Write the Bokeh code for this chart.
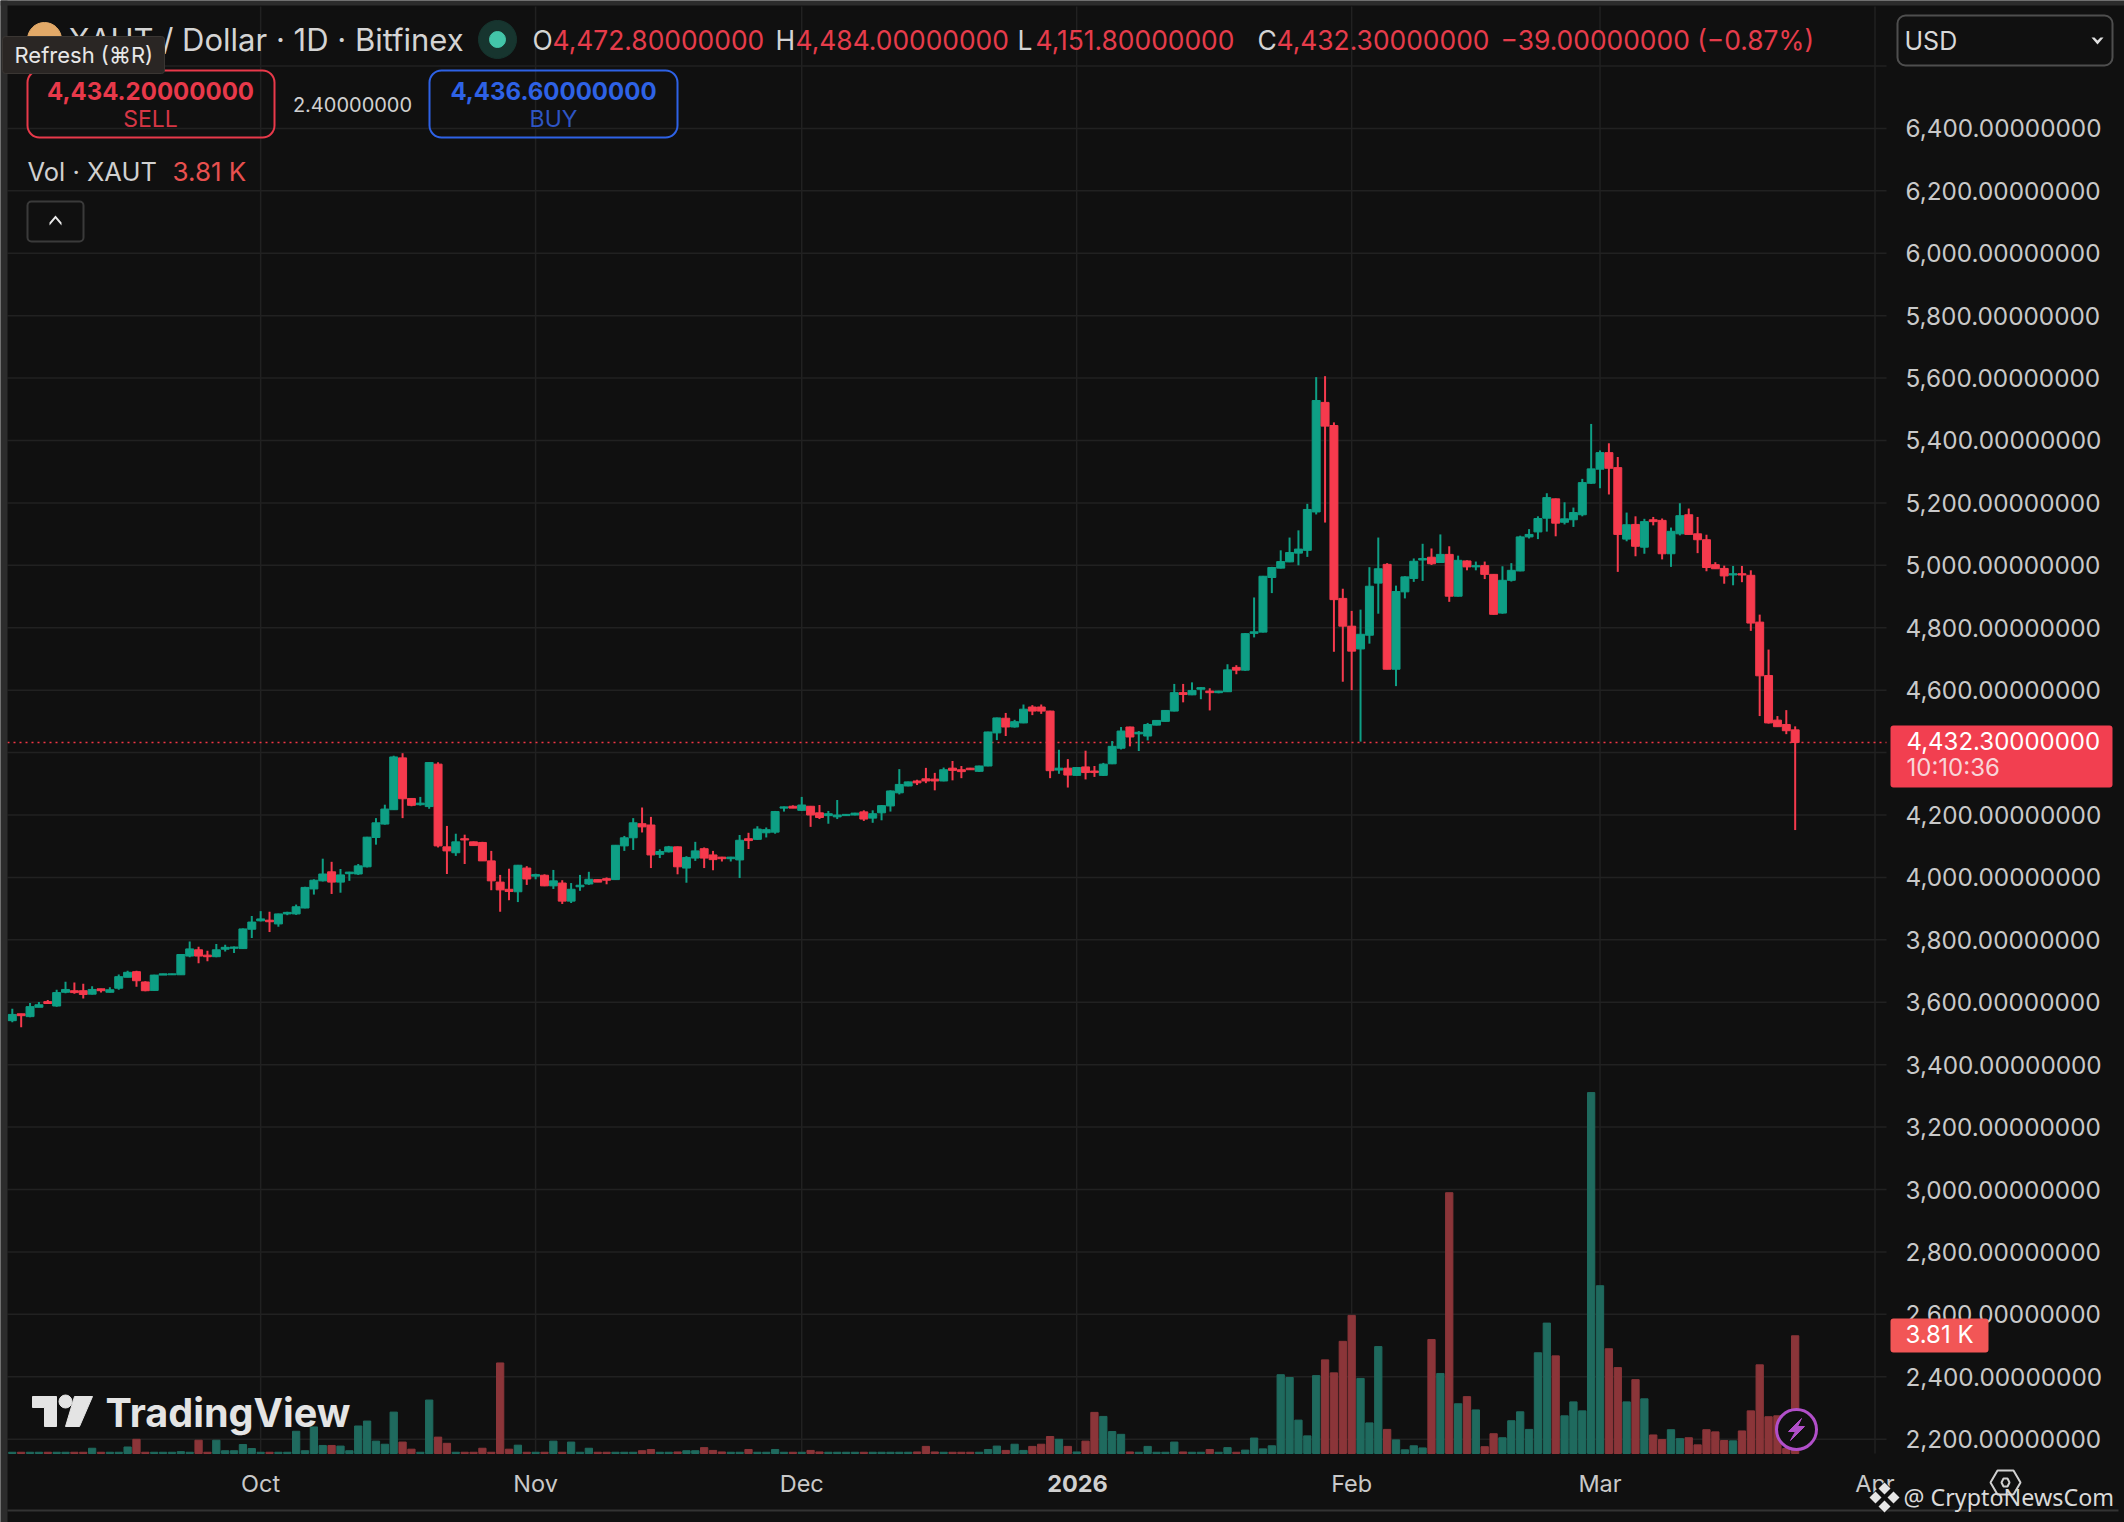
from bokeh.embed import file_html
from bokeh.resources import INLINE
from bokeh.plotting import figure
from bokeh.models import (ColumnDataSource, Range1d, LinearAxis, FixedTicker, NumeralTickFormatter,
                          Label, BoxAnnotation, PolyAnnotation)

# ---------- data (daily candles, 3 Sep 2025 .. 23 Mar 2026) ----------
OPEN = [3541,3563,3554,3584,3602,3588,3632,3637,3637,3626,
3643,3632,3645,3680,3698,3665,3638,3687,3688,3688,
3748,3768,3751,3746,3770,3773,3772,3834,3861,3863,
3851,3883,3883,3902,3963,3989,4018,3985,4012,4011,
4034,4128,4171,4217,4383,4253,4233,4227,4363,4098,
4079,4124,4114,4112,4053,3985,3962,3954,4030,4004,
4007,3973,3982,3924,3970,3979,3993,3996,3993,4101,
4127,4172,4168,4074,4082,4098,4030,4062,4092,4072,
4065,4060,4056,4124,4122,4143,4145,4222,4228,4215,
4228,4207,4198,4194,4198,4200,4210,4190,4207,4229,
4271,4293,4309,4316,4315,4309,4350,4345,4350,4340,
4357,4463,4510,4482,4495,4546,4546,4533,4344,4350,
4327,4354,4341,4327,4364,4414,4482,4460,4453,4488,
4500,4533,4592,4585,4603,4597,4592,4595,4673,4664,
4782,4786,4961,4991,5011,5039,5048,5171,5522,5448,
4894,4805,4732,4776,4943,5003,4667,4915,4958,5017,
5026,5009,5035,4901,5014,4995,4999,4971,4847,4952,
4982,5091,5107,5151,5213,5138,5146,5162,5263,5308,
5361,5313,5084,5131,5058,5146,5144,5037,5101,5162,
5101,5082,5002,4990,4969,4973,4968,4818,4647,4504,4490,4472.8]
HIGH = [3579,3563,3598,3601,3607,3640,3666,3663,3659,3651,
3643,3648,3689,3701,3701,3667,3688,3691,3691,3755,
3795,3778,3765,3787,3784,3779,3836,3876,3892,3890,
3884,3890,3913,3970,3994,4060,4050,4027,4018,4043,
4130,4190,4233,4390,4398,4254,4258,4369,4369,4165,
4140,4137,4115,4114,4085,4008,4028,4040,4036,4012,
4010,4024,3991,3982,4008,4018,3994,4000,4104,4133,
4190,4224,4194,4090,4101,4099,4068,4114,4096,4085,
4066,4066,4136,4143,4164,4160,4213,4227,4231,4258,
4229,4232,4213,4248,4203,4207,4215,4215,4232,4279,
4347,4307,4313,4351,4335,4352,4373,4357,4351,4358,
4467,4512,4527,4505,4554,4552,4554,4534,4409,4379,
4353,4406,4357,4367,4437,4482,4483,4469,4495,4504,
4536,4620,4620,4625,4610,4606,4598,4683,4680,4783,
4897,4966,4995,5048,5089,5112,5197,5603,5606,5458,
4925,4854,4858,4994,5089,5007,4935,4965,5022,5069,
5054,5099,5061,5031,5016,5012,5012,4972,4997,5007,
5095,5116,5157,5231,5214,5202,5185,5277,5453,5368,
5391,5347,5169,5157,5149,5155,5150,5121,5199,5182,
5155,5098,5010,4999,4998,4998,4984,4842,4730,4517,4536,4484]
LOW = [3536,3520,3552,3584,3596,3586,3629,3627,3612,3625,
3631,3631,3640,3680,3650,3635,3637,3687,3687,3688,
3744,3725,3731,3744,3763,3758,3771,3806,3859,3825,
3842,3879,3880,3901,3945,3987,3947,3951,3989,4008,
4032,4105,4169,4217,4190,4228,4230,4220,4096,4011,
4069,4043,4102,4053,3959,3890,3927,3921,3976,3994,
3972,3963,3915,3918,3957,3976,3985,3978,3992,4085,
4088,4144,4030,4062,4080,4010,3983,4053,4030,4023,
4051,4051,3998,4091,4120,4128,4140,4211,4222,4213,
4162,4187,4172,4187,4197,4199,4181,4175,4183,4211,
4266,4292,4296,4302,4279,4308,4311,4318,4345,4338,
4356,4440,4453,4480,4494,4520,4524,4318,4332,4288,
4326,4314,4322,4325,4363,4410,4420,4405,4439,4487,
4499,4532,4561,4584,4571,4535,4590,4594,4651,4662,
4769,4785,4911,4990,5010,5000,5027,5163,5137,4723,
4627,4600,4435,4749,4845,4667,4613,4894,4947,4950,
5001,5008,4883,4900,4984,4984,4956,4842,4845,4948,
4981,5086,5084,5108,5093,5131,5123,5157,5261,5247,
5227,4979,5077,5029,5037,5128,5019,4995,5096,5098,
5039,4981,4989,4941,4936,4946,4790,4517,4493,4483,4459,4151.8]
CLOSE = [3561,3557,3586,3592,3596,3631,3641,3631,3625,3641,
3637,3640,3682,3696,3669,3637,3687,3691,3691,3753,
3771,3748,3746,3768,3776,3777,3835,3857,3867,3858,
3883,3888,3906,3968,3991,4011,3985,4008,4017,4037,
4129,4175,4219,4386,4252,4231,4238,4368,4101,4085,
4114,4120,4102,4053,3989,3960,3955,4039,3995,4009,
3973,3989,3924,3962,3975,3994,3985,3991,4103,4127,
4175,4162,4072,4083,4098,4034,4064,4085,4062,4057,
4060,4065,4119,4118,4155,4153,4211,4226,4222,4232,
4200,4192,4204,4200,4202,4206,4187,4204,4230,4277,
4298,4306,4303,4309,4309,4345,4343,4339,4345,4357,
4466,4511,4482,4499,4539,4533,4533,4342,4350,4328,
4352,4336,4336,4363,4420,4469,4450,4465,4490,4503,
4535,4592,4586,4599,4608,4592,4597,4665,4664,4781,
4787,4965,4993,5012,5041,5052,5179,5528,5446,4890,
4805,4725,4779,4933,4989,4667,4916,4963,5013,5022,
5005,5035,4901,5016,4995,4999,4971,4843,4952,4984,
5091,5099,5150,5217,5135,5149,5169,5265,5309,5361,
5311,5099,5130,5061,5140,5140,5037,5109,5159,5099,
5082,4993,4989,4966,4973,4969,4815,4646,4495,4483,4470,4432.3]
VOLUME_K = [.04,.04,.04,.04,.04,.04,.04,.04,.04,.17,
.04,.04,.04,.21,.46,.04,.04,.04,.04,.06,
.04,.43,.04,.43,.09,.09,.29,.16,.04,.04,
.04,.04,.72,.09,.86,.26,.26,.24,.09,.89,
1.05,.40,.30,1.34,.37,.14,.04,1.73,.53,.33,
.04,.04,.04,.17,.04,2.93,.14,.27,.04,.04,
.04,.40,.04,.37,.04,.17,.04,.04,.04,.04,
.04,.09,.13,.04,.04,.05,.09,.09,.19,.10,
.05,.04,.04,.13,.04,.04,.13,.04,.04,.04,
.10,.05,.04,.04,.04,.04,.04,.04,.04,.04,
.04,.04,.05,.23,.05,.04,.04,.04,.04,.04,
.13,.24,.10,.30,.10,.23,.30,.55,.46,.23,
.05,.40,1.33,1.20,.71,.62,.05,.04,.23,.04,
.04,.37,.05,.04,.04,.13,.04,.19,.04,.11,
.50,.15,.25,2.55,2.46,1.08,.57,2.52,3.03,2.61,
3.63,4.47,2.43,.99,3.46,.78,.44,.12,.25,.18,
3.69,2.59,8.44,1.61,1.84,1.41,.22,.64,.51,1.06,
1.35,.78,3.26,4.22,3.16,1.22,1.67,1.38,11.68,5.43,
3.39,2.78,1.67,2.39,1.77,.60,.45,.77,.48,.51,
.28,.77,.70,.42,.41,.73,1.38,2.87,1.19,1.22,.16,3.81]
MONTH_TICKS = [28, 59, 89, 120, 151, 179, 210]
MONTH_LABELS = ["Oct", "Nov", "Dec", "", "Feb", "Mar", "Apr"]
PRICE_TICKS = [2200 + 200 * k for k in range(22)]
GRID_TICKS = PRICE_TICKS + [6600]
LAST_PRICE = 4432.3

UP, DOWN = "#0E9F85", "#F63A4D"
VOL_UP, VOL_DOWN = "#1F6A5E", "#8B3539"
BG, GRID, AXIS_TEXT = "#101010", "#212121", "#C9C9C9"
FONT = "Inter"

# maps between reference pixels and the chart's own axes
PX_PER_DAY, X0 = 8.87, 11.8
PX_PER_USD, Y2200 = 0.3121, 1438.7
def dx(px): return (px - X0) / PX_PER_DAY
def dy(py): return 2200 + (Y2200 - py) / PX_PER_USD

PANE_L, PANE_R, PANE_T, PANE_B = 7, 1886, 6, 1453
W, H = 2124, 1522
PX_PER_K = 30.9

# the plot frame fills the canvas, so page furniture outside the chart pane is not clipped
p = figure(width=W, height=H, output_backend="svg", toolbar_location=None,
           x_range=Range1d(dx(0), dx(W)), y_range=Range1d(dy(H), dy(0)),
           min_border_left=0, min_border_top=0, min_border_right=0, min_border_bottom=0,
           x_axis_location=None, y_axis_location=None,
           background_fill_color=BG, border_fill_color=BG, outline_line_color=None)
p.extra_y_ranges = {"vol": Range1d(-(H - PANE_B) / PX_PER_K, PANE_B / PX_PER_K)}
p.grid.visible = False

days = list(range(len(OPEN)))
src = ColumnDataSource(dict(
    day=days, open=OPEN, high=HIGH, low=LOW, close=CLOSE, vol=VOLUME_K,
    color=[UP if c >= o else DOWN for o, c in zip(OPEN, CLOSE)],
    volcolor=[VOL_UP if c >= o else VOL_DOWN for o, c in zip(OPEN, CLOSE)],
    top=[max(o, c) for o, c in zip(OPEN, CLOSE)],
    bot=[min(o, c) for o, c in zip(OPEN, CLOSE)],
))

# axes, pinned at the pane's edges inside the frame
yax = LinearAxis(ticker=FixedTicker(ticks=PRICE_TICKS), formatter=NumeralTickFormatter(format="0,0.00000000"),
                 fixed_location=dx(PANE_R), axis_line_color=None, major_tick_line_color=None, minor_tick_line_color=None,
                 major_label_standoff=13, major_label_text_font=FONT, major_label_text_font_size="24.3px",
                 major_label_text_color=AXIS_TEXT)
p.add_layout(yax, "right")
xax = LinearAxis(ticker=FixedTicker(ticks=MONTH_TICKS),
                 major_label_overrides=dict(zip(MONTH_TICKS, MONTH_LABELS)),
                 fixed_location=dy(PANE_B), axis_line_color=None, major_tick_line_color=None, minor_tick_line_color=None,
                 major_label_standoff=9, major_label_text_font=FONT, major_label_text_font_size="23.5px",
                 major_label_text_color=AXIS_TEXT)
p.add_layout(xax, "below")

# grid of the chart pane
p.segment(x0=MONTH_TICKS, x1=MONTH_TICKS, y0=dy(PANE_B), y1=dy(PANE_T), color=GRID, line_width=1.5)
p.segment(x0=dx(PANE_L), x1=dx(PANE_R), y0=GRID_TICKS, y1=GRID_TICKS, color=GRID, line_width=1.5)

# marks
p.vbar(x="day", top="vol", bottom=0, width=0.82, color="volcolor", source=src, y_range_name="vol")
p.line([dx(PANE_L), dx(PANE_R)], [LAST_PRICE, LAST_PRICE], line_color="#F23645", line_width=1.5, line_dash=[2, 4])
p.segment(x0="day", x1="day", y0="low", y1="high", color="color", line_width=2, source=src)
p.vbar(x="day", top="top", bottom="bot", width=0.9, color="color", source=src)

def text(t, x, y, size, color, align="left", weight="normal", level="annotation", font=FONT):
    p.add_layout(Label(x=x, y=y, x_units="canvas", y_units="canvas", text=t, text_font=font,
                       text_font_size=f"{size}px", text_color=color,
                       text_align=align, text_baseline="middle", text_font_style=weight, level=level))

def box(l, r, t, b, fill, line=None, lw=2, radius=0, level="annotation"):
    p.add_layout(BoxAnnotation(left=l, right=r, top=t, bottom=b, left_units="canvas", right_units="canvas",
                               top_units="canvas", bottom_units="canvas",
                               fill_color=fill, fill_alpha=1 if fill else 0,
                               line_color=line, line_width=lw, line_alpha=1 if line else 0, border_radius=radius, level=level))

def poly(pts, fill, line=None, lw=1, level="annotation", fa=1):
    p.add_layout(PolyAnnotation(xs=[a for a, _ in pts], ys=[b for _, b in pts], xs_units="canvas", ys_units="canvas",
                                fill_color=fill, fill_alpha=fa,
                                line_color=line, line_alpha=1 if line else 0, line_width=lw, level=level))

# window chrome
box(0, W, 0, 5, "#2C2C2C", None, 0)
box(0, 7, 0, H, "#2C2C2C", None, 0)

# header
p.scatter([dx(44)], [dy(39)], size=34, color="#E2A968")
text("XAUT / Dollar · 1D · Bitfinex", 68, 39, 31, "#D4D4D4")
p.scatter([dx(497)], [dy(39)], size=38, color="#17352F")
p.scatter([dx(497)], [dy(39)], size=16, color="#43C5A9")
text("O", 532, 39, 26.4, "#D4D4D4"); text("4,472.80000000", 552, 39, 26.4, "#E63C4B")
text("H", 775, 39, 26.4, "#D4D4D4"); text("4,484.00000000", 795, 39, 26.4, "#E63C4B")
text("L", 1017, 39, 26.4, "#D4D4D4"); text("4,151.80000000", 1035, 39, 26.4, "#E63C4B")
text("C", 1257, 39, 26.4, "#D4D4D4"); text("4,432.30000000", 1276, 39, 26.4, "#E63C4B")
text("−39.00000000 (−0.87%)", 1500, 39, 26.4, "#E63C4B")

# sell / buy
box(27, 274, 70, 137, None, "#E8394A", 2, 12)
text("4,434.20000000", 150, 90, 24, "#E8394A", "center", "bold")
text("SELL", 150, 118, 23, "#D63645", "center")
text("2.40000000", 352, 104, 20, "#D0D0D0", "center")
box(429, 677, 70, 137, None, "#2E62E6", 2, 12)
text("4,436.60000000", 553, 90, 24, "#2E62E6", "center", "bold")
text("BUY", 553, 118, 23, "#2E55C4", "center")
text("Vol · XAUT", 27, 171, 25.5, "#D0D0D0")
text("3.81 K", 172, 171, 26, "#E8504F")
box(27, 83, 201, 241, None, "#3A3A3A", 2, 4)
poly([(49, 225), (55, 218), (61, 225), (61, 222), (55, 215), (49, 222)], "#E8E8E8")

# tooltip above the title
box(2, 164, 36, 73, "#2A2624", "#3A3633", 1, 3, level="overlay")
text("Refresh (⌘R)", 14, 54, 22, "#E8E8E8", level="overlay")

# currency select
box(1897, 2112, 15, 65, BG, "#4E4E4E", 2, 8, level="overlay")
text("USD", 1904, 40, 25, "#D8D8D8", level="overlay")
poly([(2091, 37), (2094, 37), (2097, 40), (2100, 37), (2103, 37), (2097, 44)], "#E0E0E0", level="overlay")

# last price badge
box(1890, 2112, 725, 787, "#F23F50", None, 0, 3, level="overlay")
text("4,432.30000000", 1906, 740, 24, "#FFFFFF", level="overlay")
text("10:10:36", 1906, 767, 24, "#F8D5D8", level="overlay")
box(1890, 1988, 1318, 1352, "#F25656", None, 0, 3, level="overlay")
text("3.81 K", 1939, 1334, 24, "#FFFFFF", "center", level="overlay")

# x-axis year in bold
text("2026", 1077, 1483, 23.5, "#D0D0D0", "center", "bold")

# TradingView watermark
LOGO = "#E4E4E4"
p.patch([dx(a) for a in (32, 56, 56, 44, 44, 32)], [dy(b) for b in (1396, 1396, 1426, 1426, 1407, 1407)], color=LOGO)
p.scatter([dx(65)], [dy(1401)], size=13, color=LOGO)
p.patch([dx(a) for a in (74, 92, 79, 65)], [dy(b) for b in (1396, 1396, 1426, 1426)], color=LOGO)
text("TradingView", 105, 1412, 39.6, LOGO, weight="bold")

# lightning marker on the last bar
p.scatter([dx(1796)], [dy(1429)], size=40, fill_color=BG, line_color="#B14FC9", line_width=3)
p.patch([dx(1796 + a) for a in (5, -8, -1, -6, 8, 1)], [dy(1429 + b) for b in (-11, 2, 2, 11, -3, -3)], color="#B14FC9")

# settings hexagon
poly([(1990, 1482), (1997, 1470), (2013, 1470), (2020, 1482), (2013, 1494), (1997, 1494)], BG, "#D0D0D0", 2)
poly([(2001, 1482), (2003, 1478), (2007, 1478), (2009, 1482), (2007, 1486), (2003, 1486)], BG, "#D0D0D0", 2)

# bottom rule
box(7, 2118, 1509, 1511, "#333333", None, 0, 0)

# source mark
poly([(1884, 1481), (1900, 1497), (1884, 1513), (1868, 1497)], BG)
for cx, cy in [(1884, 1488), (1884, 1506), (1875, 1497), (1893, 1497)]:
    poly([(cx, cy - 6), (cx + 6, cy), (cx, cy + 6), (cx - 6, cy)], "#E6E6E6")
text("@ CryptoNewsCom", 1903, 1496, 23.3, "#DADADA", font="Noto Sans")

open("out.html", "w").write(file_html(p, INLINE))
